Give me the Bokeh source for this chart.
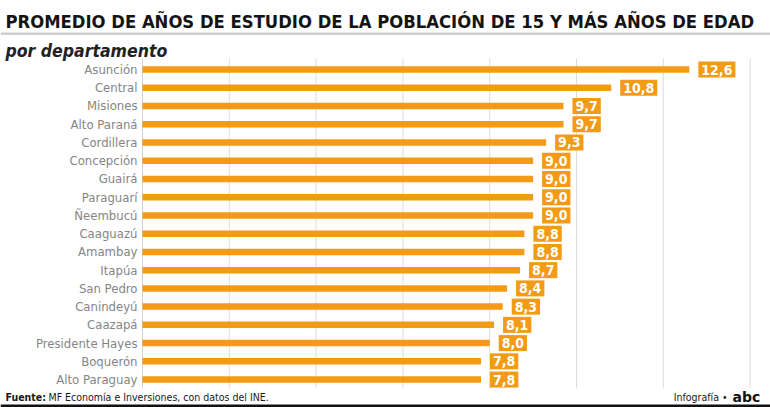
from bokeh.plotting import figure
from bokeh.models import Label, BoxAnnotation, ColumnDataSource
from bokeh.core.properties import value
from bokeh.embed import file_html
from bokeh.resources import INLINE

# --- data -------------------------------------------------------------
departamentos = [
    "Asunción", "Central", "Misiones", "Alto Paraná", "Cordillera",
    "Concepción", "Guairá", "Paraguarí", "Ñeembucú", "Caaguazú",
    "Amambay", "Itapúa", "San Pedro", "Canindeyú", "Caazapá",
    "Presidente Hayes", "Boquerón", "Alto Paraguay",
]
anios_estudio = [12.6, 10.8, 9.7, 9.7, 9.3, 9.0, 9.0, 9.0, 9.0,
                 8.8, 8.8, 8.7, 8.4, 8.3, 8.1, 8.0, 7.8, 7.8]
grid_ticks = [2, 4, 6, 8, 10, 12, 14]

titulo = "PROMEDIO DE AÑOS DE ESTUDIO DE LA POBLACIÓN DE 15 Y MÁS AÑOS DE EDAD"
subtitulo = "por departamento"
fuente_lbl = "Fuente:"
fuente_txt = "MF Economía e Inversiones, con datos del INE."
credito = "Infografía •"
marca = "abc"

# --- layout -----------------------------------------------------------
W, H = 770, 407
ZERO_PX = 142          # pixel where the value axis starts
PX_PER_UNIT = 43.4     # horizontal scale
ROW0, ROW_STEP = 69, 18.24
PLOT_TOP, PLOT_BOTTOM = 58, 388

COND = "DejaVu Sans Condensed"
ORANGE = "#F39A17"

x0 = -ZERO_PX / PX_PER_UNIT
x1 = x0 + W / PX_PER_UNIT

p = figure(width=W, height=H, x_range=(x0, x1), y_range=(H, 0),
           output_backend="svg", toolbar_location=None,
           x_axis_location=None, y_axis_location=None, min_border=0)
p.outline_line_color = None
p.grid.visible = False
p.background_fill_color = "white"
p.border_fill_color = "white"

rows = [ROW0 + ROW_STEP * i for i in range(len(departamentos))]
etiquetas = [f"{v:.1f}".replace(".", ",") for v in anios_estudio]
gap = 9 / PX_PER_UNIT
src = ColumnDataSource(dict(
    y=rows, v=anios_estudio, dep=departamentos, lab=etiquetas,
    lx=[v + gap for v in anios_estudio],
))

# vertical grid + baseline
p.segment(x0=grid_ticks, x1=grid_ticks, y0=PLOT_TOP, y1=PLOT_BOTTOM,
          line_color="#dcdcdc", line_width=1)
p.segment(x0=[0], x1=[0], y0=PLOT_TOP, y1=PLOT_BOTTOM,
          line_color="#d0d0d0", line_width=1)

# bars
p.hbar(y="y", left=0, right="v", height=6.5, source=src,
       fill_color=ORANGE, line_color=None)

# department names
p.text(x=-5 / PX_PER_UNIT, y="y", text="dep", source=src,
       text_align="right", text_baseline="middle",
       text_font=value(COND), text_font_size="13px", text_color="#858585")

# value boxes
p.text(x="lx", y="y", text="lab", source=src,
       text_align="left", text_baseline="middle",
       text_font=value(COND), text_font_style="bold", text_font_size="14px",
       text_color="white", background_fill_color=ORANGE,
       padding=dict(left=3, right=3, top=3, bottom=3))


def screen_label(x, y_top, text, **kw):
    """Place a text by its baseline, measured in pixels from the top."""
    p.add_layout(Label(x=x, y=H - y_top, x_units="screen", y_units="screen",
                       text=text, text_baseline="alphabetic", **kw))


# title block
screen_label(5, 21, titulo, text_font=COND, text_font_style="bold",
             text_font_size="18.3px", text_color="#141414")
p.add_layout(BoxAnnotation(left=x0, right=x1, top=32, bottom=34.5,
                           fill_color="#cfcfcf", fill_alpha=1, line_color=None))
screen_label(5, 50, subtitulo, text_font=COND, text_font_style="bold italic",
             text_font_size="17.5px", text_color="#222222")

# footer
screen_label(5, 396, fuente_lbl, text_font=COND, text_font_style="bold",
             text_font_size="10.5px", text_color="#1a1a1a")
screen_label(48, 396, fuente_txt, text_font=COND,
             text_font_size="10.5px", text_color="#1a1a1a")
screen_label(727, 396, credito, text_font=COND, text_align="right",
             text_font_size="10.5px", text_color="#1a1a1a")
screen_label(732, 396, marca, text_font="DejaVu Sans", text_font_style="bold",
             text_font_size="14px", text_color="#111111")
p.add_layout(BoxAnnotation(left=x0, right=x1, top=404, bottom=407,
                           fill_color="#111111", fill_alpha=1, line_color=None))

open("out.html", "w").write(file_html(p, INLINE))
